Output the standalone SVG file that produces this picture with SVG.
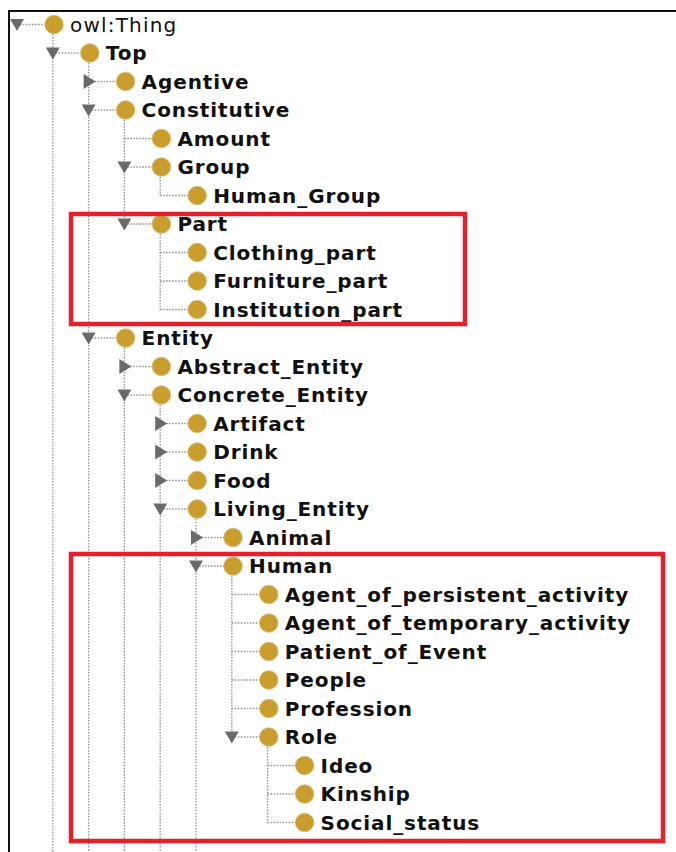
<svg xmlns="http://www.w3.org/2000/svg" width="676" height="852" viewBox="0 0 676 852">
  <style>
    .bg { fill: #ffffff; }
    .frame { stroke: #111111; stroke-width: 2; fill: none; }
    .dot { stroke: #8f8f8f; stroke-width: 1.3; stroke-dasharray: 1.5 1.5; fill: none; }
    .cls { fill: #c99d2e; stroke: #d9bb73; stroke-width: 0.8; }
    .tog { fill: #6a6a6a; }
    .lbl { font-family: "DejaVu Sans", Verdana, sans-serif; font-size: 20px; font-weight: bold; letter-spacing: 0.9px; fill: #111111; }
    .root { font-weight: normal; letter-spacing: 1.2px; }
    .hl { fill: none; stroke: #e5202b; stroke-width: 4.5; }
  </style>
  <defs>
    <polygon id="open" class="tog" points="-7,-5.5 7,-5.5 0,6.5"/>
    <polygon id="shut" class="tog" points="-5,-7.5 7,0 -5,7.5"/>
    <circle id="ball" class="cls" r="9.3"/>
  </defs>

  <rect class="bg" width="676" height="852"/>
  <path class="frame" d="M9,852 V11 H676"/>

  <!-- tree guide lines -->
  <g id="connectors">
    <!-- vertical runs -->
    <path class="dot" d="M52.8,34 V852"/>
    <path class="dot" d="M88.6,63 V852"/>
    <path class="dot" d="M124.4,120 V224"/>
    <path class="dot" d="M160.2,177 V196"/>
    <path class="dot" d="M160.2,234 V310"/>
    <path class="dot" d="M124.4,348 V852"/>
    <path class="dot" d="M160.2,405 V852"/>
    <path class="dot" d="M196,519 V852"/>
    <path class="dot" d="M231.8,576 V737"/>
    <path class="dot" d="M267.6,747 V823"/>
    <!-- horizontal stubs -->
    <path class="dot" d="M17,24.5 H44"/>
    <path class="dot" d="M52.8,53 H80"/>
    <path class="dot" d="M88.6,81.5 H116"/>
    <path class="dot" d="M88.6,110 H116"/>
    <path class="dot" d="M124.4,138.5 H152"/>
    <path class="dot" d="M124.4,167 H152"/>
    <path class="dot" d="M160.2,195.5 H188"/>
    <path class="dot" d="M124.4,224 H152"/>
    <path class="dot" d="M160.2,252.5 H188"/>
    <path class="dot" d="M160.2,281 H188"/>
    <path class="dot" d="M160.2,309.5 H188"/>
    <path class="dot" d="M88.6,338 H116"/>
    <path class="dot" d="M124.4,366.5 H152"/>
    <path class="dot" d="M124.4,395 H152"/>
    <path class="dot" d="M160.2,423.5 H188"/>
    <path class="dot" d="M160.2,452 H188"/>
    <path class="dot" d="M160.2,480.5 H188"/>
    <path class="dot" d="M160.2,509 H188"/>
    <path class="dot" d="M196,537.5 H224"/>
    <path class="dot" d="M196,566 H224"/>
    <path class="dot" d="M231.8,594.5 H260"/>
    <path class="dot" d="M231.8,623 H260"/>
    <path class="dot" d="M231.8,651.5 H260"/>
    <path class="dot" d="M231.8,680 H260"/>
    <path class="dot" d="M231.8,708.5 H260"/>
    <path class="dot" d="M231.8,737 H260"/>
    <path class="dot" d="M267.6,765.5 H295"/>
    <path class="dot" d="M267.6,794 H295"/>
    <path class="dot" d="M267.6,822.5 H295"/>
  </g>

  <!-- class nodes -->
  <g id="owl-thing"><use href="#open" x="17" y="24.5"/><use href="#ball" x="54" y="24.5"/><text class="lbl root" x="70" y="31.5">owl:Thing</text></g>
  <g id="top"><use href="#open" x="52.8" y="53"/><use href="#ball" x="89.8" y="53"/><text class="lbl" x="105.8" y="60">Top</text></g>
  <g id="agentive"><use href="#shut" x="88.6" y="81.5"/><use href="#ball" x="125.6" y="81.5"/><text class="lbl" x="141.6" y="88.5">Agentive</text></g>
  <g id="constitutive"><use href="#open" x="88.6" y="110"/><use href="#ball" x="125.6" y="110"/><text class="lbl" x="141.6" y="117">Constitutive</text></g>
  <g id="amount"><use href="#ball" x="161.4" y="138.5"/><text class="lbl" x="177.4" y="145.5">Amount</text></g>
  <g id="group"><use href="#open" x="124.4" y="167"/><use href="#ball" x="161.4" y="167"/><text class="lbl" x="177.4" y="174">Group</text></g>
  <g id="human-group"><use href="#ball" x="197.2" y="195.5"/><text class="lbl" x="213.2" y="202.5">Human_Group</text></g>
  <g id="part"><use href="#open" x="124.4" y="224"/><use href="#ball" x="161.4" y="224"/><text class="lbl" x="177.4" y="231">Part</text></g>
  <g id="clothing-part"><use href="#ball" x="197.2" y="252.5"/><text class="lbl" x="213.2" y="259.5">Clothing_part</text></g>
  <g id="furniture-part"><use href="#ball" x="197.2" y="281"/><text class="lbl" x="213.2" y="288">Furniture_part</text></g>
  <g id="institution-part"><use href="#ball" x="197.2" y="309.5"/><text class="lbl" x="213.2" y="316.5">Institution_part</text></g>
  <g id="entity"><use href="#open" x="88.6" y="338"/><use href="#ball" x="125.6" y="338"/><text class="lbl" x="141.6" y="345">Entity</text></g>
  <g id="abstract-entity"><use href="#shut" x="124.4" y="366.5"/><use href="#ball" x="161.4" y="366.5"/><text class="lbl" x="177.4" y="373.5">Abstract_Entity</text></g>
  <g id="concrete-entity"><use href="#open" x="124.4" y="395"/><use href="#ball" x="161.4" y="395"/><text class="lbl" x="177.4" y="402">Concrete_Entity</text></g>
  <g id="artifact"><use href="#shut" x="160.2" y="423.5"/><use href="#ball" x="197.2" y="423.5"/><text class="lbl" x="213.2" y="430.5">Artifact</text></g>
  <g id="drink"><use href="#shut" x="160.2" y="452"/><use href="#ball" x="197.2" y="452"/><text class="lbl" x="213.2" y="459">Drink</text></g>
  <g id="food"><use href="#shut" x="160.2" y="480.5"/><use href="#ball" x="197.2" y="480.5"/><text class="lbl" x="213.2" y="487.5">Food</text></g>
  <g id="living-entity"><use href="#open" x="160.2" y="509"/><use href="#ball" x="197.2" y="509"/><text class="lbl" x="213.2" y="516">Living_Entity</text></g>
  <g id="animal"><use href="#shut" x="196" y="537.5"/><use href="#ball" x="233" y="537.5"/><text class="lbl" x="249" y="544.5">Animal</text></g>
  <g id="human"><use href="#open" x="196" y="566"/><use href="#ball" x="233" y="566"/><text class="lbl" x="249" y="573">Human</text></g>
  <g id="agent-persistent"><use href="#ball" x="268.8" y="594.5"/><text class="lbl" x="284.8" y="601.5">Agent_of_persistent_activity</text></g>
  <g id="agent-temporary"><use href="#ball" x="268.8" y="623"/><text class="lbl" x="284.8" y="630">Agent_of_temporary_activity</text></g>
  <g id="patient-of-event"><use href="#ball" x="268.8" y="651.5"/><text class="lbl" x="284.8" y="658.5">Patient_of_Event</text></g>
  <g id="people"><use href="#ball" x="268.8" y="680"/><text class="lbl" x="284.8" y="687">People</text></g>
  <g id="profession"><use href="#ball" x="268.8" y="708.5"/><text class="lbl" x="284.8" y="715.5">Profession</text></g>
  <g id="role"><use href="#open" x="231.8" y="737"/><use href="#ball" x="268.8" y="737"/><text class="lbl" x="284.8" y="744">Role</text></g>
  <g id="ideo"><use href="#ball" x="304.6" y="765.5"/><text class="lbl" x="320.6" y="772.5">Ideo</text></g>
  <g id="kinship"><use href="#ball" x="304.6" y="794"/><text class="lbl" x="320.6" y="801">Kinship</text></g>
  <g id="social-status"><use href="#ball" x="304.6" y="822.5"/><text class="lbl" x="320.6" y="829.5">Social_status</text></g>

  <!-- highlight boxes -->
  <g id="highlights">
    <rect class="hl" x="71" y="214" width="394" height="110"/>
    <rect class="hl" x="71" y="554" width="592" height="287"/>
  </g>
</svg>
